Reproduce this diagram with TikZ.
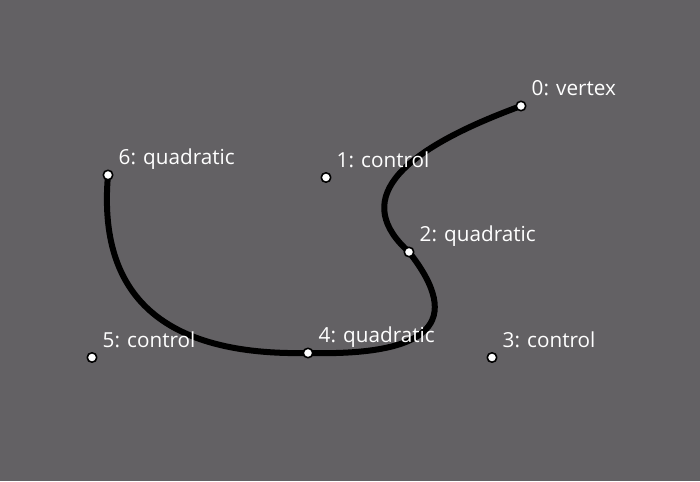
\documentclass[tikz,border=0pt]{standalone}
\usepackage{fontspec}
\setmainfont{Open Sans}
\usetikzlibrary{calc}
\definecolor{hintergrund}{RGB}{99,97,100}
\begin{document}
\begin{tikzpicture}[x=1pt,y=-1pt,line join=round,line cap=round,
	punkt/.style={circle,draw=black,fill=white,line width=1.6pt,inner sep=0pt,minimum size=9.5pt},
	beschr/.style={anchor=base west,text=white,inner sep=0pt,font=\fontsize{20.7}{23}\selectfont}]
	% Hintergrund
	\fill[hintergrund] (0,0) rectangle (700,481);
	\useasboundingbox (0,0) rectangle (700,481);
	\coordinate (v0) at (521,106);
	\coordinate (c1) at (326,177.5);
	\coordinate (q2) at (409,252);
	\coordinate (c3) at (492,357.5);
	\coordinate (q4) at (308,353);
	\coordinate (c5) at (92,357.5);
	\coordinate (q6) at (108,175);
	% Kurve aus drei quadratischen Stuecken
	\draw[line width=6pt]
		(v0) .. controls ($(v0)!2/3!(c1)$) and ($(q2)!2/3!(c1)$) .. (q2)
		.. controls ($(q2)!2/3!(c3)$) and ($(q4)!2/3!(c3)$) .. (q4)
		.. controls ($(q4)!2/3!(c5)$) and ($(q6)!2/3!(c5)$) .. (q6);
	% Punkte und Beschriftungen
	\foreach \p/\t in {v0/0: vertex, c1/1: control, q2/2: quadratic, c3/3: control,
		q4/4: quadratic, c5/5: control, q6/6: quadratic}{
		\node[punkt] (p-\p) at (\p) {};
		\node[beschr] (l-\p) at ($(\p)+(10.5,-10.5)$) {\t};
	}
\end{tikzpicture}
\end{document}
